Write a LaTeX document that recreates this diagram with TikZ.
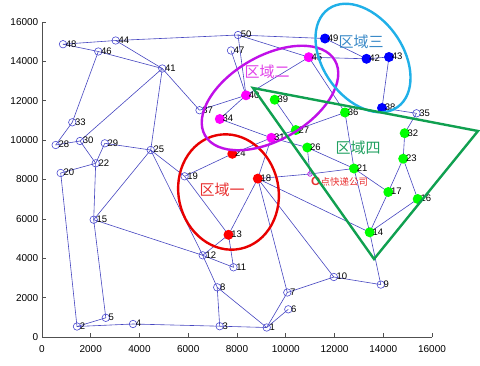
\documentclass[tikz,border=0pt]{standalone}
\usepackage{fontspec}
\setmainfont{Liberation Sans}
\newfontfamily\cjk{Noto Sans CJK SC}
\usetikzlibrary{backgrounds}
\definecolor{edgec}{HTML}{4646C0}
\definecolor{holc}{HTML}{4A4AD0}
\definecolor{axc}{HTML}{505050}
\definecolor{fred}{RGB}{255,0,0}
\definecolor{fmag}{RGB}{255,0,255}
\definecolor{fblue}{RGB}{0,0,255}
\definecolor{fgreen}{RGB}{0,255,0}
\definecolor{ellred}{HTML}{E80000}
\definecolor{ellmag}{HTML}{C010E8}
\definecolor{ellcyan}{HTML}{20B0E8}
\definecolor{ellgreen}{HTML}{10A050}
\definecolor{txtcyan}{HTML}{3A8AC8}
\definecolor{txtmag}{HTML}{E040E8}
\definecolor{txtred}{HTML}{E83030}
\definecolor{txtgreen}{HTML}{20A060}
\tikzset{
  hol/.style={circle,draw=holc,line width=0.6pt,minimum size=7.5pt,inner sep=0pt},
  redn/.style={circle,fill=fred,minimum size=10pt,inner sep=0pt},
  magn/.style={circle,fill=fmag,minimum size=10pt,inner sep=0pt},
  blun/.style={circle,fill=fblue,minimum size=10pt,inner sep=0pt},
  grn/.style={circle,fill=fgreen,minimum size=10pt,inner sep=0pt},
  lab/.style={anchor=west,inner sep=0pt,font=\fontsize{9.5}{10}\selectfont},
  edge/.style={draw=edgec,line width=0.6pt},
  axis/.style={draw=axc,line width=0.8pt},
  tick/.style={font=\fontsize{10}{11}\selectfont,inner sep=0pt},
  region/.style={line width=2.4pt},
  rlab/.style={font=\cjk\fontsize{15}{16}\selectfont,inner sep=0pt}
}
\begin{document}
\begin{tikzpicture}[x=1pt,y=-1pt]
\useasboundingbox (0,0) rectangle (480,365);
% axes
\draw[axis] (42,22) coordinate (ytop) -- (42,337) coordinate (orig) -- (432,337) coordinate (xend);
\foreach \k in {0,...,8}{
  \pgfmathsetmacro\yy{337-39.375*\k}
  \pgfmathtruncatemacro\val{2000*\k}
  \draw[axis,line width=0.6pt] (42,\yy) -- (46,\yy);
  \node[tick,anchor=east] (yt\k) at (38.5,\yy) {\val};
  \pgfmathsetmacro\xx{42+48.75*\k}
  \draw[axis,line width=0.6pt] (\xx,337) -- (\xx,333);
  \node[tick,anchor=north] (xt\k) at (\xx,345) {\val};
}
% nodes
\foreach \n/\x/\y/\s in {
1/266.7/327.5/hol, 2/77/326.5/hol, 3/219.7/326.2/hol, 4/133/324/hol, 5/105.8/317.8/hol,
6/288.3/309.3/hol, 7/287.3/292.5/hol, 8/217.2/287.3/hol, 9/380.8/284.6/hol, 10/333.8/277/hol,
11/233.5/267.3/hol, 12/202.7/255.3/hol, 13/228.5/234.8/redn, 14/369.7/232.3/grn, 15/93.7/219.7/hol,
16/417.7/199/grn, 17/388.3/192/grn, 18/257.8/178.6/redn, 19/184.6/176.3/hol, 20/60.7/173/hol,
21/354/168.5/grn, 22/95.7/163.3/hol, 23/403.2/158.7/grn, 24/232.3/153.8/redn, 25/150.7/150/hol,
26/307.3/147.5/grn, 27/295.8/130/grn, 28/55.7/145/hol, 29/104.8/143.3/hol, 30/80/141/hol,
31/271.4/137.8/magn, 32/404.7/133.2/grn, 33/72.3/122.3/hol, 34/219.8/119/magn, 35/416.5/113.3/hol,
36/345/112.5/grn, 37/199.5/110.2/hol, 38/382/108/blun, 39/274.7/99.7/grn, 40/246/95.3/magn,
41/162.3/68.5/hol, 42/366.5/58.8/blun, 43/389/57/blun, 44/115.7/40.5/hol, 45/308.8/57.2/magn,
46/98.3/51.5/hol, 47/231/50.5/hol, 48/63/44.2/hol, 49/325/38.5/blun, 50/238/35/hol}{
  \node[\s] (n\n) at (\x,\y) {};
  \node[lab] (l\n) at (\x+2.6,\y-0.3) {\n};
}
% depot
\node[circle,draw=ellmag,line width=0.7pt,minimum size=4.5pt,inner sep=0pt] (nO) at (310,174) {};
\node[inner sep=0pt,anchor=west,text=txtred] (lO) at (311,182) {{\fontsize{12}{12}\selectfont\bfseries O}{\cjk\fontsize{9.5}{10}\selectfont 点快递公司}};
% edges
\begin{scope}[on background layer]
\foreach \a/\b in {48/44,44/50,50/49,48/46,46/41,44/41,46/33,33/28,28/30,30/22,41/30,41/25,41/37,
37/40,47/40,50/40,50/45,45/40,45/42,42/43,49/42,43/38,38/35,45/36,40/34,34/31,31/27,27/36,39/27,
24/31,31/18,31/26,26/21,36/21,21/14,21/17,14/17,14/16,17/23,23/16,23/32,32/35,14/9,18/14,18/10,
18/7,18/13,19/24,19/13,25/19,25/12,12/8,25/15,25/29,29/22,20/22,22/15,20/2,15/5,5/2,2/4,4/3,3/1,
3/8,8/1,1/7,1/6,7/10,10/9,15/12,12/11,12/13,13/11,18/O,O/21,26/O}{
  \draw[edge] (n\a.center) -- (n\b.center);
}
\end{scope}
% regions
\draw[region,draw=ellred,rotate around={12:(228.5,192)}] (228.5,192) ellipse (50 and 58);
\draw[region,draw=ellmag,rotate around={30:(270,98)}] (270,98) ellipse (75 and 42);
\draw[region,draw=ellcyan,rotate around={-55:(363,58)}] (363,58) ellipse (60 and 40);
\draw[region,draw=ellgreen,line join=miter] (253,88) coordinate (ta) -- (478,131) coordinate (tb) -- (374,259) coordinate (tc) -- cycle;
\node[rlab,text=txtcyan] (r3) at (361,42) {区域三};
\node[rlab,text=txtmag] (r2) at (267,72) {区域二};
\node[rlab,text=txtred] (r1) at (222,190) {区域一};
\node[rlab,text=txtgreen] (r4) at (358,148) {区域四};
\end{tikzpicture}
\end{document}
